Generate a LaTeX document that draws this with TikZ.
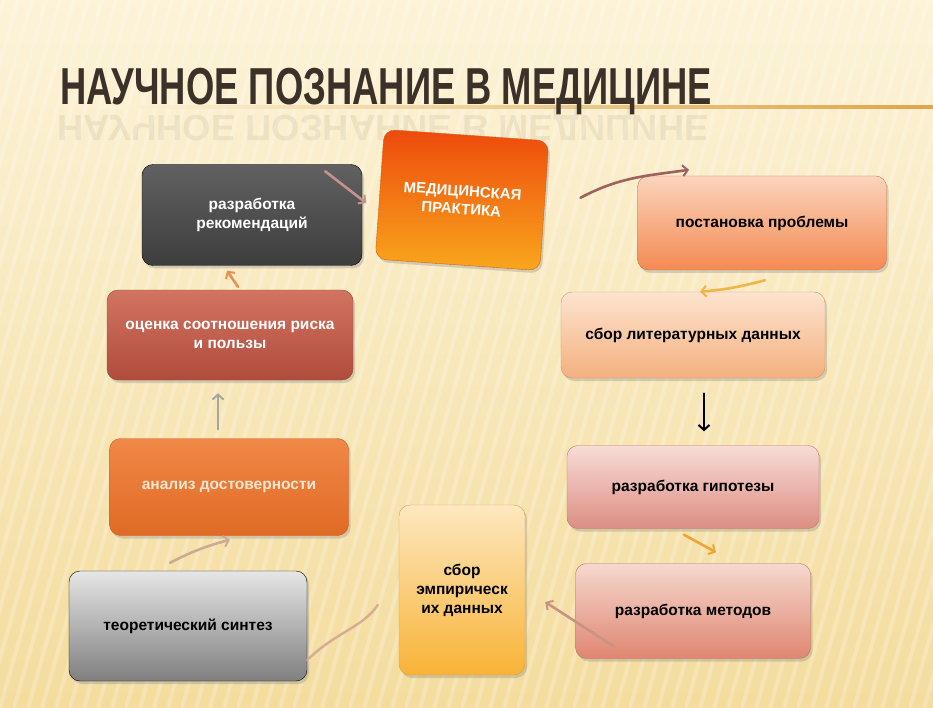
\documentclass[tikz,border=0pt]{standalone}
\usepackage{fontspec}
\setmainfont{Liberation Sans}
\newfontfamily\titlefont[FakeStretch=0.7]{Liberation Sans}
\usetikzlibrary{arrows.meta,shadows}
\definecolor{bgtop}{HTML}{FCF3D8}
\definecolor{bgbot}{HTML}{F4DC9E}
\definecolor{titlec}{HTML}{3B3129}
\definecolor{rule}{HTML}{DFA64A}
\begin{document}
\begin{tikzpicture}[x=1pt,y=-1pt,
	box/.style={draw,rounded corners=11pt,align=center,inner sep=0pt,
		font=\bfseries\fontsize{15.5}{19}\selectfont,
		drop shadow={opacity=0.3,shadow xshift=2pt,shadow yshift=-3pt}},
	darkbox/.style={box,top color=black!62,bottom color=black!76,draw=black,text=white},
	firebox/.style={box,top color={rgb,255:red,238;green,74;blue,12},bottom color={rgb,255:red,248;green,167;blue,29},draw={rgb,255:red,214;green,96;blue,20},text=white},
	peachbox/.style={box,top color={rgb,255:red,251;green,212;blue,188},bottom color={rgb,255:red,244;green,138;blue,82},draw={rgb,255:red,200;green,120;blue,80},text=black},
	sandbox/.style={box,top color={rgb,255:red,253;green,228;blue,207},bottom color={rgb,255:red,243;green,176;blue,126},draw={rgb,255:red,205;green,150;blue,105},text=black},
	pinkbox/.style={box,top color={rgb,255:red,247;green,220;blue,214},bottom color={rgb,255:red,221;green,142;blue,132},draw={rgb,255:red,190;green,120;blue,110},text=black},
	rosebox/.style={box,top color={rgb,255:red,246;green,216;blue,207},bottom color={rgb,255:red,223;green,134;blue,112},draw={rgb,255:red,190;green,115;blue,95},text=black},
	ambox/.style={box,top color={rgb,255:red,253;green,232;blue,192},bottom color={rgb,255:red,248;green,179;blue,54},draw={rgb,255:red,215;green,160;blue,70},text=black},
	greybox/.style={box,top color=black!10,bottom color=black!50,draw=black,text=black},
	orbox/.style={box,top color={rgb,255:red,240;green,136;blue,72},bottom color={rgb,255:red,224;green,106;blue,36},draw={rgb,255:red,200;green,95;blue,35},text={rgb,255:red,251;green,230;blue,210}},
	brickbox/.style={box,top color={rgb,255:red,210;green,116;blue,98},bottom color={rgb,255:red,176;green,76;blue,60},draw={rgb,255:red,150;green,70;blue,55},text=white},
	ar/.style={line width=2.6pt,line cap=round,-{Straight Barb[length=5pt,width=11pt,line width=2pt]}}]
	% background
	\fill[top color=bgtop,bottom color=bgbot] (0,0) rectangle (933,708);
	\begin{scope}
		\clip (0,0) rectangle (933,708);
		\foreach \i in {-16,...,68}
			\draw[white,opacity=0.22,line width=4pt] (\i*14,708) -- (\i*14+200,0);
	\end{scope}
	\useasboundingbox (0,0) rectangle (933,708);
	% title
	\shade[left color=bgtop,right color=rule] (100,106) rectangle (933,108.5);
	\node[anchor=base west,text=titlec,font=\titlefont\bfseries\fontsize{52}{52}\selectfont] (title) at (57,105) {НАУЧНОЕ ПОЗНАНИЕ В МЕДИЦИНЕ};
	\node[anchor=north west,text=titlec,opacity=0.07,font=\titlefont\bfseries\fontsize{52}{52}\selectfont,inner sep=0pt] (mirror) at (57,108) {\scalebox{1}[-0.7]{НАУЧНОЕ ПОЗНАНИЕ В МЕДИЦИНЕ}};
	% boxes
	\node[darkbox,minimum width=220pt,minimum height=101pt] (rek) at (252,215) {разработка\\рекомендаций};
	\node[firebox,rotate=-4,minimum width=165pt,minimum height=130pt,font=\bfseries\fontsize{15}{18}\selectfont] (prak) at (462,200) {МЕДИЦИНСКАЯ\\ПРАКТИКА};
	\node[peachbox,minimum width=249pt,minimum height=94pt] (post) at (762,223) {постановка проблемы};
	\node[sandbox,minimum width=264pt,minimum height=86pt] (lit) at (693,335) {сбор литературных данных};
	\node[pinkbox,minimum width=252pt,minimum height=83pt] (gip) at (693,487) {разработка гипотезы};
	\node[rosebox,minimum width=235pt,minimum height=95pt] (met) at (693,611) {разработка методов};
	\node[ambox,minimum width=126pt,minimum height=170pt] (emp) at (462,590) {сбор\\эмпирическ\\их данных};
	\node[greybox,minimum width=238pt,minimum height=110pt] (sin) at (188,626) {теоретический синтез};
	\node[orbox,minimum width=239pt,minimum height=97pt] (anal) at (229,487) {анализ достоверности};
	\node[brickbox,minimum width=246pt,minimum height=90pt] (oc) at (230,335) {оценка соотношения риска\\и пользы};
	% connectors
	\draw[ar,draw={rgb,255:red,160;green,96;blue,96}] ([xshift=36pt,yshift=8pt]prak.east) to[out=28,in=188] ([xshift=-73pt,yshift=6pt]post.north);
	\draw[ar,draw={rgb,255:red,240;green,180;blue,72}] ([xshift=3pt,yshift=-10pt]post.south) to[bend left=5] ([xshift=7pt]lit.north);
	\draw[ar,draw=black,line width=1.6pt] ([xshift=11pt,yshift=-15pt]lit.south) -- ([xshift=11pt,yshift=14pt]gip.north);
	\draw[ar,draw={rgb,255:red,240;green,164;blue,52}] ([xshift=-9pt,yshift=-6pt]gip.south) -- ([xshift=23pt,yshift=11pt]met.north);
	\draw[ar,draw={rgb,255:red,200;green,148;blue,130}] ([xshift=39pt,yshift=12pt]met.south west) -- ([xshift=20pt,yshift=-12pt]emp.east);
	\draw[line width=2.4pt,line cap=round,draw={rgb,255:red,214;green,172;blue,148}] ([xshift=-21pt,yshift=-15pt]emp.west) .. controls (362,628) and (336,632) .. ([yshift=-34pt]sin.east);
	\draw[ar,draw={rgb,255:red,204;green,170;blue,148}] ([xshift=-18pt,yshift=8pt]sin.north) to[bend left=6] ([xshift=1pt,yshift=-4pt]anal.south);
	\draw[ar,draw={rgb,255:red,168;green,166;blue,156}] ([xshift=-11pt,yshift=9pt]anal.north) -- ([xshift=-12pt,yshift=-13pt]oc.south);
	\draw[ar,draw={rgb,255:red,232;green,144;blue,80}] ([xshift=8pt,yshift=3pt]oc.north) -- ([xshift=-25pt,yshift=-5pt]rek.south);
	\draw[ar,draw={rgb,255:red,200;green,144;blue,144}] ([xshift=-37pt,yshift=-7pt]rek.north east) -- ([xshift=4pt,yshift=12pt]rek.east);
\end{tikzpicture}
\end{document}
